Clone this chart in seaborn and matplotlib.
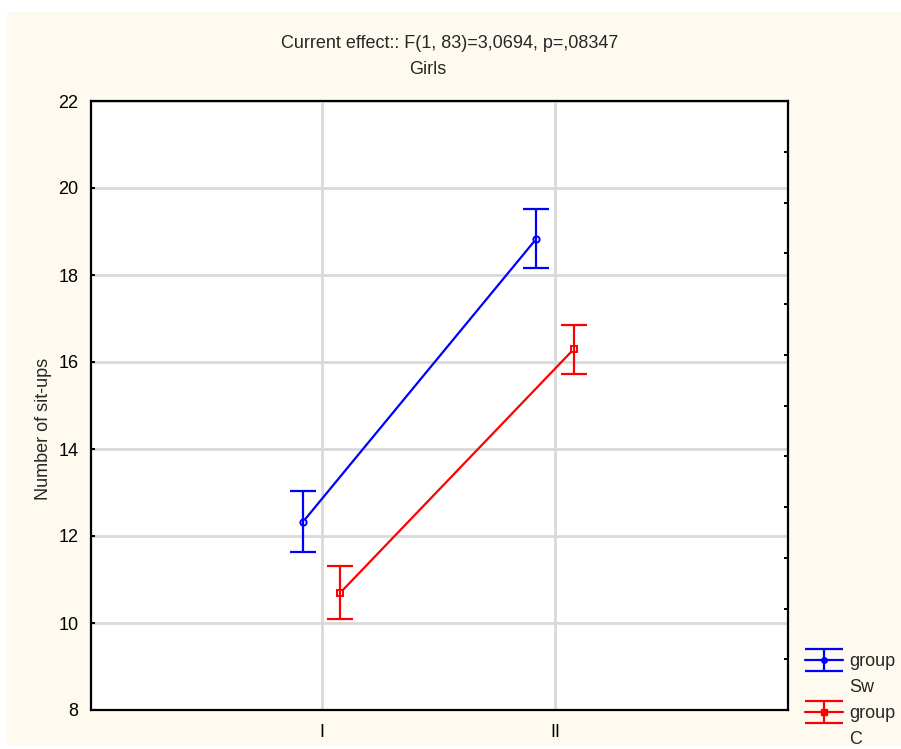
import matplotlib
matplotlib.use("Agg")
import matplotlib.pyplot as plt
from matplotlib.patches import Rectangle
from matplotlib.lines import Line2D
from matplotlib.legend_handler import HandlerErrorbar
import numpy as np
import pandas as pd
import seaborn as sns

# Mean number of sit-ups per measurement and group, with confidence half-widths
measurements = ["I", "II"]
groups = ["Sw", "C"]
means_sw = [12.33, 18.83]
means_c = [10.70, 16.29]
err_sw = [0.70, 0.68]
err_c = [0.61, 0.56]
y_ticks = [8, 10, 12, 14, 16, 18, 20, 22]

title_line1 = "Current effect:: F(1, 83)=3,0694, p=,08347"
title_line2 = "Girls"
y_label = "Number of sit-ups"

colors = {"Sw": "#0000FF", "C": "#FF0000"}
marker_map = {"Sw": "o", "C": "s"}

df = pd.DataFrame({
    "measurement": measurements * 2,
    "group": [groups[0]] * 2 + [groups[1]] * 2,
    "value": means_sw + means_c,
})
errors = {"Sw": err_sw, "C": err_c}

FS = 13

sns.set_style("white")
plt.rcParams["font.family"] = ["Liberation Sans", "DejaVu Sans"]
plt.rcParams["font.size"] = FS

fig = plt.figure(figsize=(9.01, 7.49), dpi=100, facecolor="white")
fig.add_artist(Rectangle((7 / 901, 4 / 749), 894 / 901, 733 / 749,
                         transform=fig.transFigure, facecolor="#FEFAF0",
                         edgecolor="none", zorder=-10))

ax = fig.add_axes([91 / 901, 39 / 749, 697 / 901, 609 / 749])
ax.set_facecolor("white")

sns.pointplot(data=df, x="measurement", y="value", hue="group",
              order=measurements, hue_order=groups, palette=colors,
              markers=[marker_map[g] for g in groups], linestyles="-",
              dodge=0.16, errorbar=None, ax=ax, legend=False,
              linewidth=1.6, markersize=4.5, markeredgewidth=1.4,
              markerfacecolor="white")

# error bars placed at the dodged positions drawn by seaborn
for line, g in zip(ax.lines[:2], groups):
    xs = np.asarray(line.get_xdata(), dtype=float)
    ys = np.asarray(line.get_ydata(), dtype=float)
    ax.errorbar(xs, ys, yerr=errors[g], fmt="none", ecolor=colors[g],
                elinewidth=1.6, capsize=9.3, capthick=1.6, zorder=3)

ax.set_xlim(-0.99, 2.0)
ax.set_ylim(8, 22)
ax.set_yticks(y_ticks)
ax.set_xticks([0, 1])
ax.set_xticklabels(measurements)
ax.set_xlabel("")
ax.set_ylabel("")

ax.grid(True, color="#D9D9D9", linewidth=2, zorder=0)
ax.set_axisbelow(True)
for s in ax.spines.values():
    s.set_color("black")
    s.set_linewidth(1.6)
ax.tick_params(axis="both", direction="in", length=3, width=1.4,
               colors="black", labelsize=FS, pad=9)
ax.tick_params(axis="x", pad=10)

# unlabelled minor scale on the right frame edge
ax2 = ax.twinx()
ax2.set_ylim(0, 12)
ax2.set_yticks(np.arange(1, 12))
ax2.set_yticklabels([])
ax2.tick_params(axis="y", direction="in", length=3, width=1.4, colors="black")
for s in ax2.spines.values():
    s.set_visible(False)

fig.text(450 / 901, 1 - 43 / 749, title_line1, ha="center", va="center", fontsize=FS)
fig.text(428 / 901, 1 - 69 / 749, title_line2, ha="center", va="center", fontsize=FS)
fig.text(44 / 901, 1 - 429 / 749, y_label, ha="center", va="center",
         rotation=90, fontsize=FS)

# legend: one errorbar symbol per group, group name on the line below
handles = []
labels = []
for g in groups:
    h = ax.errorbar([np.nan], [np.nan], yerr=[0.5], fmt="-", color=colors[g],
                    marker=marker_map[g], markersize=4, markerfacecolor=colors[g],
                    linewidth=1.6, elinewidth=1.6, capsize=13.6, capthick=1.6)
    handles += [h, Line2D([], [], linestyle="none")]
    labels += ["group", g]

fig.legend(handles, labels, loc="upper left",
           bbox_to_anchor=(805 / 901, 1 - 653 / 749), frameon=False,
           fontsize=FS, handlelength=2.1, handletextpad=0.35,
           labelspacing=0.5, borderpad=0, borderaxespad=0,
           handler_map={type(handles[0]): HandlerErrorbar(yerr_size=0.6)})

fig.savefig("out.png", dpi=100, facecolor="white")
